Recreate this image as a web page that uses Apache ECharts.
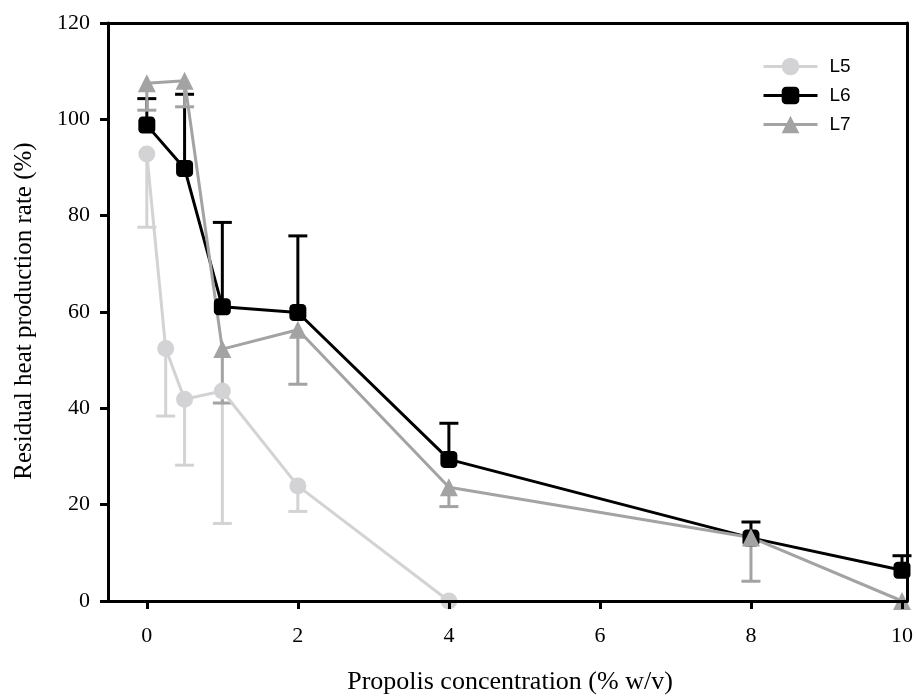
<!DOCTYPE html>
<html>
<head>
<meta charset="utf-8">
<script src="https://cdn.jsdelivr.net/npm/echarts@6/dist/echarts.min.js"></script>
<style>html,body{margin:0;padding:0;background:#fff}#c{width:916px;height:697px}</style>
</head>
<body>
<div id="c"></div>
<script>
// ---- data ----
const xTicks = [0, 2, 4, 6, 8, 10];
const xTitle = 'Propolis concentration (% w/v)';
const yTitle = 'Residual heat production rate (%)';

const xL5 = [0, 0.25, 0.5, 1, 2, 4];
const yL5 = [92.8, 52.4, 41.9, 43.6, 23.9, 0];
const errL5 = [77.6, 38.4, 28.2, 16.1, 18.6, null];   // lower bar ends

const xL6 = [0, 0.5, 1, 2, 4, 8, 10];
const yL6 = [98.8, 89.8, 61.1, 59.9, 29.4, 13.1, 6.4];
const errL6 = [104.3, 105.2, 78.6, 75.8, 36.9, 16.4, 9.4]; // upper bar ends

const xL7 = [0, 0.5, 1, 2, 4, 8, 10];
const yL7 = [107.5, 108.0, 52.3, 56.3, 23.6, 13.2, 0];
const errL7 = [101.9, 102.6, 41.1, 45.0, 19.6, 4.1, null]; // lower bar ends

const C5 = '#d3d3d5', C6 = '#000000', C7 = '#a3a3a3';

function pts(xs, ys) { return xs.map((x, i) => [x, ys[i]]); }
function errData(xs, ys, es) {
  const out = [];
  xs.forEach((x, i) => { if (es[i] != null) out.push([x, ys[i], es[i]]); });
  return out;
}
function errSeries(name, xs, ys, es, color) {
  return {
    type: 'custom', name: name, data: errData(xs, ys, es), clip: false, silent: true,
    renderItem: function (params, api) {
      const p0 = api.coord([api.value(0), api.value(1)]);
      const p1 = api.coord([api.value(0), api.value(2)]);
      const hw = 9.5;
      return {
        type: 'group',
        children: [
          { type: 'line', shape: { x1: p0[0], y1: p0[1], x2: p1[0], y2: p1[1] }, style: { stroke: color, lineWidth: 3 } },
          { type: 'line', shape: { x1: p1[0] - hw, y1: p1[1], x2: p1[0] + hw, y2: p1[1] }, style: { stroke: color, lineWidth: 3 } }
        ]
      };
    }
  };
}
function lineSeries(name, xs, ys, color, symbol, size) {
  return {
    type: 'line', name: name, data: pts(xs, ys), clip: false,
    symbol: symbol, symbolSize: size, showAllSymbol: true,
    lineStyle: { color: color, width: 3 },
    itemStyle: { color: color, borderWidth: 0 },
    emphasis: { disabled: true }
  };
}

const serif = 'Liberation Serif';
const chart = echarts.init(document.getElementById('c'), null, { renderer: 'canvas' });
chart.setOption({
  animation: false,
  backgroundColor: '#ffffff',
  grid: { left: 108, top: 23, right: 5, bottom: 96, containLabel: false },
  legend: {
    data: ['L5', 'L6', 'L7'],
    orient: 'vertical', left: 757, top: 52,
    itemWidth: 54, itemHeight: 22, itemGap: 10,
    lineStyle: { width: 3 },
    textStyle: { fontFamily: 'Liberation Sans', fontSize: 19, color: '#000', padding: [0, 0, 0, 7] }
  },
  graphic: [
    { type: 'text', x: 510, y: 682, z: 100,
      style: { text: xTitle, font: '26px "Liberation Serif"', fill: '#000', align: 'center', verticalAlign: 'middle' } },
    { type: 'text', x: 24, y: 311, rotation: Math.PI / 2, z: 100,
      style: { text: yTitle, font: '25px "Liberation Serif"', fill: '#000', align: 'center', verticalAlign: 'middle' } }
  ],
  xAxis: [{
    type: 'value', min: -0.514, max: 10.066, z: 10,
    axisLine: { show: true, onZero: false, lineStyle: { color: '#000', width: 3 } },
    axisTick: { show: true, inside: false, length: 8, customValues: xTicks, lineStyle: { color: '#000', width: 3 } },
    axisLabel: { customValues: xTicks, margin: 24, fontFamily: serif, fontSize: 22, color: '#000' },
    splitLine: { show: false }
  }, {
    type: 'value', position: 'top', min: -0.514, max: 10.066, z: 10,
    axisLine: { show: true, onZero: false, lineStyle: { color: '#000', width: 3 } },
    axisTick: { show: false }, axisLabel: { show: false }, splitLine: { show: false }
  }],
  yAxis: [{
    type: 'value', min: 0, max: 120, interval: 20, z: 10,
    axisLine: { show: true, onZero: false, lineStyle: { color: '#000', width: 3 } },
    axisTick: { show: true, inside: false, length: 8, lineStyle: { color: '#000', width: 3 } },
    axisLabel: { margin: 18, fontFamily: serif, fontSize: 22, color: '#000' },
    splitLine: { show: false }
  }, {
    type: 'value', position: 'right', min: 0, max: 120, z: 10,
    axisLine: { show: true, onZero: false, lineStyle: { color: '#000', width: 3 } },
    axisTick: { show: false }, axisLabel: { show: false }, splitLine: { show: false }
  }],
  series: [
    errSeries('eL5', xL5, yL5, errL5, C5),
    lineSeries('L5', xL5, yL5, C5, 'circle', 17),
    errSeries('eL6', xL6, yL6, errL6, C6),
    lineSeries('L6', xL6, yL6, C6, 'roundRect', 17),
    errSeries('eL7', xL7, yL7, errL7, C7),
    lineSeries('L7', xL7, yL7, C7, 'triangle', 18)
  ]
});
</script>
</body>
</html>
